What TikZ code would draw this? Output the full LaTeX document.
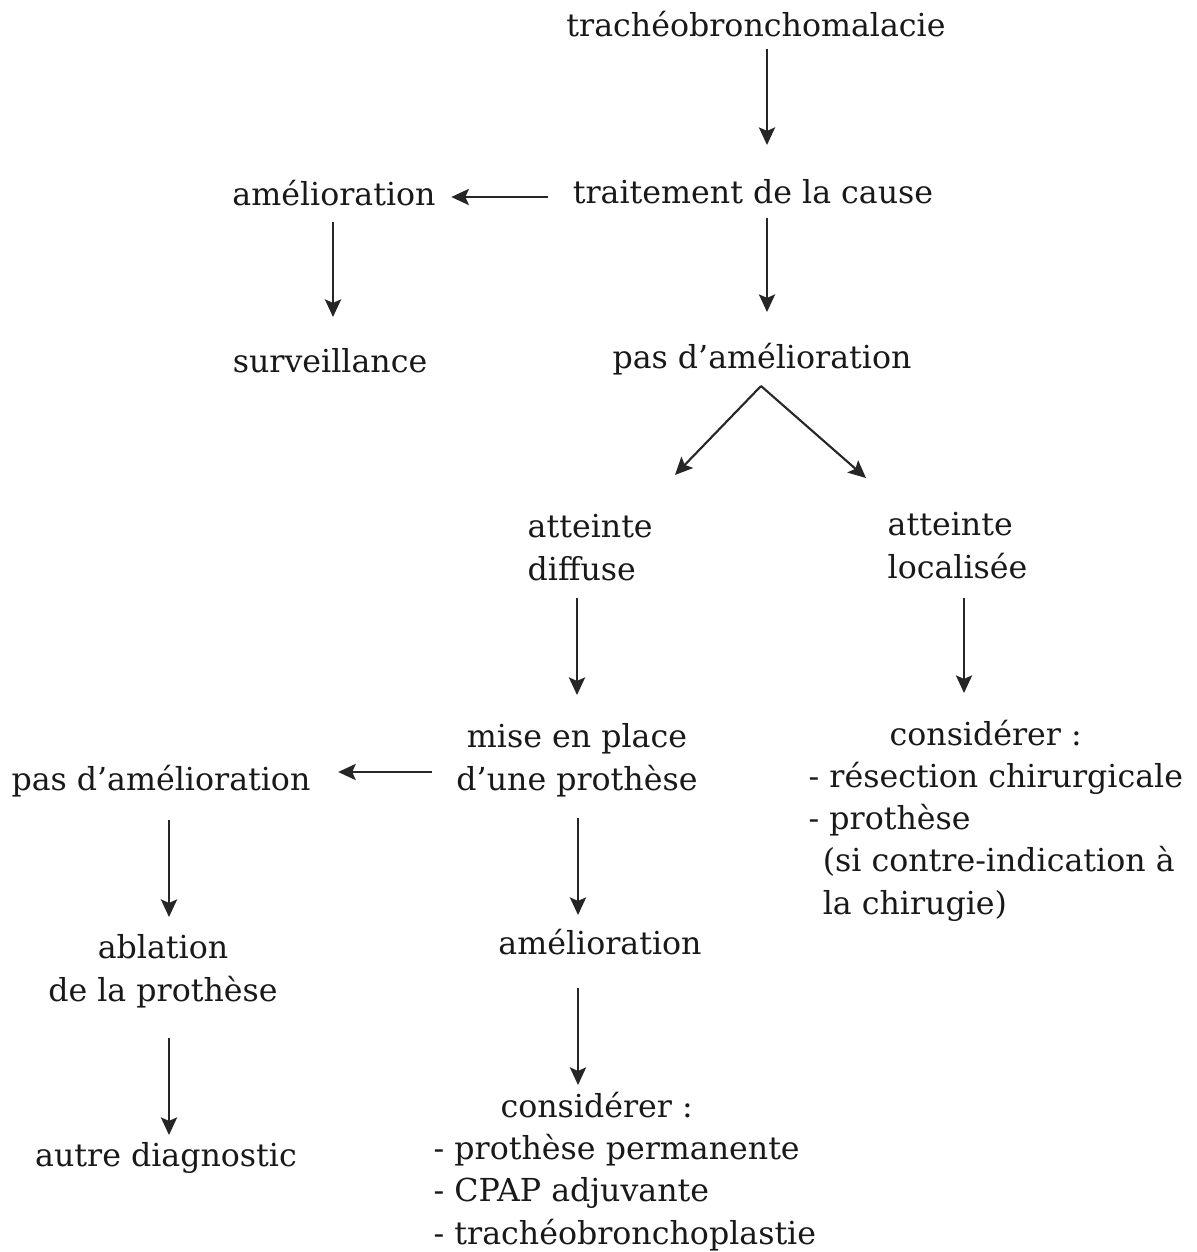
\documentclass[tikz,border=0pt]{standalone}
\usepackage{fontspec}
\setmainfont{DejaVu Serif}
\usetikzlibrary{arrows.meta, calc}
\tikzstyle{etape} = [inner sep=0pt, anchor=base, align=center, text=black!90, font=\fontsize{9}{11.95}\selectfont]
\tikzstyle{liste} = [etape, anchor=base west, align=left]
\tikzstyle{arrow} = [draw=black!85, line width=0.6pt, -{Stealth[length=5pt, width=4.6pt, inset=1pt]}]

\begin{document}
\begin{tikzpicture}[x=0.01cm, y=-0.01cm]
\useasboundingbox (0,0) rectangle (1196,1252);
\node(trachea) [etape] at (756,37) {trachéobronchomalacie};
\node(traitement) [etape] at (753,204) {traitement de la cause};
\node(amelio) [etape] at (334,206) {amélioration};
\node(surveillance) [etape] at (330,373) {surveillance};
\node(pasamelio) [etape] at (762,369) {pas d'amélioration};
\node(diffuse) [liste] at (527,580) {atteinte\\diffuse};
\node(localisee) [liste] at (887,578) {atteinte\\localisée};
\node(prothese) [etape] at (577,790) {mise en place\\d'une prothèse};
\node(echec) [etape] at (161,790) {pas d'amélioration};
\node(ablation) [etape] at (163,1001) {ablation\\de la prothèse};
\node(autre) [etape] at (166,1166) {autre diagnostic};
\node(succes) [etape] at (600,954) {amélioration};
\node(chirurgie) [liste] at (808,914) {\hspace*{23pt}considérer :\\- résection chirurgicale\\- prothèse\\\hspace*{4pt}(si contre-indication à\\\hspace*{4pt}la chirugie)};
\node(suivi) [liste] at (433,1244) {\hspace*{19pt}considérer :\\- prothèse permanente\\- CPAP adjuvante\\- trachéobronchoplastie};

\draw[arrow] ($(trachea.base)+(11,12)$) -- ($(traitement.base)+(14,-59)$);
\draw[arrow] ($(traitement.base west)+(-24,-7)$) -- ($(amelio.base east)+(15,-9)$);
\draw[arrow] ($(amelio.base)+(-1,16)$) -- ($(surveillance.base)+(3,-56)$);
\draw[arrow] ($(traitement.base)+(14,14)$) -- ($(pasamelio.base)+(5,-57)$);
\draw[arrow] ($(pasamelio.base)+(-1,17)$) -- ($(diffuse.base west)+(148,-105)$);
\draw[arrow] ($(pasamelio.base)+(-1,17)$) -- ($(localisee.base west)+(-21,-100)$);
\draw[arrow] ($(diffuse.base west)+(50,18)$) -- ($(prothese.base)+(0,-95)$);
\draw[arrow] ($(localisee.base west)+(77,20)$) -- ($(chirurgie.base west)+(156,-221)$);
\draw[arrow] ($(prothese.base)+(-145,-18)$) -- ($(echec.base east)+(27,-18)$);
\draw[arrow] ($(echec.base)+(8,30)$) -- ($(ablation.base)+(6,-84)$);
\draw[arrow] ($(prothese.base)+(1,28)$) -- ($(succes.base)+(-22,-39)$);
\draw[arrow] ($(ablation.base)+(6,37)$) -- ($(autre.base)+(3,-31)$);
\draw[arrow] ($(succes.base)+(-22,34)$) -- ($(suivi.base west)+(145,-159)$);
\end{tikzpicture}
\end{document}
